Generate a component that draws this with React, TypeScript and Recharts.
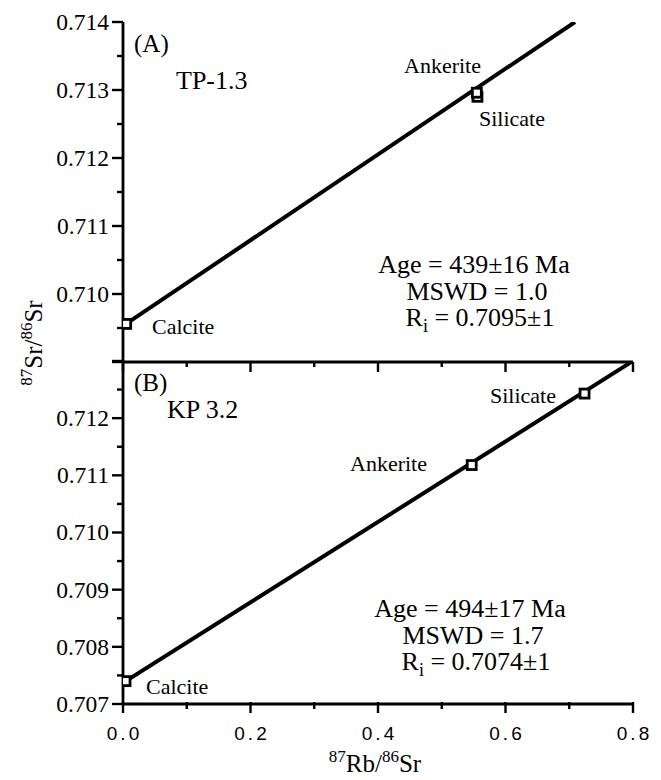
import React from 'react';
import { ScatterChart, Scatter, XAxis, YAxis } from 'recharts';

// ---------- data ----------
const xTicks = [0, 0.1, 0.2, 0.3, 0.4, 0.5, 0.6, 0.7, 0.8];
const xLabelTicks = [0, 0.2, 0.4, 0.6, 0.8];

const yTicksA = [0.709, 0.7095, 0.71, 0.7105, 0.711, 0.7115, 0.712, 0.7125, 0.713, 0.7135, 0.714];
const yLabelsA = [0.71, 0.711, 0.712, 0.713, 0.714];
const yTicksB = [0.707, 0.7075, 0.708, 0.7085, 0.709, 0.7095, 0.71, 0.7105, 0.711, 0.7115, 0.712, 0.7125, 0.713];
const yLabelsB = [0.707, 0.708, 0.709, 0.71, 0.711, 0.712];

// Panel A (TP-1.3)
const calciteA = [{ x: 0.005, y: 0.70956 }];
const ankeriteA = [{ x: 0.555, y: 0.71296 }];
const silicateA = [{ x: 0.556, y: 0.7129 }];
const fitA = [{ x: 0, y: 0.70953 }, { x: 0.709, y: 0.714 }];

// Panel B (KP 3.2)
const calciteB = [{ x: 0.004, y: 0.7074 }];
const ankeriteB = [{ x: 0.547, y: 0.71118 }];
const silicateB = [{ x: 0.724, y: 0.71243 }];
const fitB = [{ x: 0, y: 0.70737 }, { x: 0.8, y: 0.713 }];

// ---------- layout ----------
const W = 661;
const PLOT_L = 123;
const PLOT_R = 633;
const A_TOP = 22;
const MID = 362;
const B_BOT = 704;
const SERIF = '"Liberation Serif", "Times New Roman", serif';
const SANS = '"Liberation Sans", Arial, sans-serif';

const near = (a: number, b: number) => Math.abs(a - b) < 1e-9;
const inList = (v: number, list: number[]) => list.some((t) => near(t, v));
const isMajorY = (v: number) => Math.abs(v * 1000 - Math.round(v * 1000)) < 1e-6;
const isMajorX = (v: number) => Math.abs(v * 5 - Math.round(v * 5)) < 1e-6;

const makeYTick = (labels: number[]) => (props: any) => {
  const { y, payload } = props;
  const v = payload.value as number;
  const major = isMajorY(v);
  return (
    <g>
      <line x1={PLOT_L - (major ? 11 : 6)} x2={PLOT_L} y1={y} y2={y} stroke="#000" strokeWidth={2.4} />
      {inList(v, labels) && (
        <text x={PLOT_L - 14} y={y} dy="0.34em" textAnchor="end" fontFamily={SERIF} fontSize={23.5} fill="#000">
          {v.toFixed(3)}
        </text>
      )}
    </g>
  );
};

const TopXTick = (props: any) => {
  const { x, payload } = props;
  const major = isMajorX(payload.value);
  return <line x1={x} x2={x} y1={MID} y2={MID + (major ? 10 : 5)} stroke="#000" strokeWidth={2.4} />;
};

const BottomXTick = (props: any) => {
  const { x, payload } = props;
  const v = payload.value as number;
  const major = isMajorX(v);
  return (
    <g>
      <line x1={x} x2={x} y1={B_BOT - 2} y2={B_BOT + (major ? 9 : 5)} stroke="#000" strokeWidth={2.4} />
      {inList(v, xLabelTicks) && (
        <text x={x + 1.5} y={740} textAnchor="middle" fontFamily={SANS} fontSize={19} letterSpacing={3} fill="#000">
          {v.toFixed(1)}
        </text>
      )}
    </g>
  );
};

const Square = (props: any) => {
  const { cx, cy } = props;
  if (cx == null || cy == null) return <g />;
  return <rect x={cx - 4.5} y={cy - 4.5} width={9} height={9} fill="#fff" stroke="#000" strokeWidth={2.8} />;
};
const NoShape = () => <g />;

const lineStyle = { stroke: '#000', strokeWidth: 4 };

const Panel = ({ height, top, xHeight, domain, yTicks, yLabels, bottomTick, fit, points }: any) => (
  <ScatterChart
    width={W}
    height={height}
    margin={{ top, right: W - PLOT_R, bottom: 0, left: 0 }}
    style={{ position: 'absolute', left: 0, top: 0 }}
  >
    <XAxis
      xAxisId="b"
      type="number"
      dataKey="x"
      domain={[0, 0.8]}
      ticks={xTicks}
      interval={0}
      height={xHeight}
      axisLine={{ stroke: '#000', strokeWidth: 2.8 }}
      tickLine={false}
      tick={bottomTick}
      allowDataOverflow
    />
    <XAxis
      xAxisId="t"
      orientation="top"
      type="number"
      dataKey="x"
      domain={[0, 0.8]}
      height={0}
      tick={false}
      tickLine={false}
      axisLine={{ stroke: '#000', strokeWidth: 2.6 }}
      allowDataOverflow
    />
    <YAxis
      yAxisId="l"
      type="number"
      dataKey="y"
      domain={domain}
      ticks={yTicks}
      interval={0}
      width={PLOT_L}
      axisLine={{ stroke: '#000', strokeWidth: 2.8 }}
      tickLine={false}
      tick={makeYTick(yLabels)}
      allowDataOverflow
    />
    <YAxis
      yAxisId="r"
      orientation="right"
      type="number"
      dataKey="y"
      domain={domain}
      width={0}
      tick={false}
      tickLine={false}
      axisLine={{ stroke: '#000', strokeWidth: 2.6 }}
      allowDataOverflow
    />
    <Scatter xAxisId="b" yAxisId="l" data={fit} line={lineStyle} shape={NoShape} isAnimationActive={false} />
    {points.map((p: any, i: number) => (
      <Scatter key={i} xAxisId="b" yAxisId="l" data={p} shape={Square} isAnimationActive={false} />
    ))}
  </ScatterChart>
);

const txt = { fontFamily: SERIF, fill: '#000' } as const;

export default function App() {
  return (
    <div style={{ position: 'absolute', left: 0, top: 0, width: W, height: 780, background: '#fff' }}>
      <Panel
        height={MID + 10}
        top={A_TOP}
        xHeight={10}
        domain={[0.709, 0.714]}
        yTicks={yTicksA}
        yLabels={yLabelsA}
        bottomTick={TopXTick}
        fit={fitA}
        points={[calciteA, silicateA, ankeriteA]}
      />
      <Panel
        height={780}
        top={MID - 1}
        xHeight={780 - B_BOT}
        domain={[0.707, 0.713]}
        yTicks={yTicksB}
        yLabels={yLabelsB}
        bottomTick={BottomXTick}
        fit={fitB}
        points={[calciteB, ankeriteB, silicateB]}
      />
      <svg width={W} height={780} style={{ position: 'absolute', left: 0, top: 0, pointerEvents: 'none' }}>
        {/* Panel A annotations */}
        <text x={134} y={52} fontSize={25} {...txt}>(A)</text>
        <text x={176} y={89} fontSize={26} {...txt}>TP-1.3</text>
        <text x={404} y={73} fontSize={22} {...txt}>Ankerite</text>
        <text x={479} y={126} fontSize={22} {...txt}>Silicate</text>
        <text x={152} y={334} fontSize={22} {...txt}>Calcite</text>
        <text x={474} y={273} fontSize={26} textAnchor="middle" {...txt}>Age = 439±16 Ma</text>
        <text x={477} y={300} fontSize={26} textAnchor="middle" {...txt}>MSWD = 1.0</text>
        <text x={480} y={326} fontSize={26} textAnchor="middle" {...txt}>
          R<tspan fontSize={18} dy={6}>i</tspan>
          <tspan dy={-6}> = 0.7095±1</tspan>
        </text>

        {/* Panel B annotations */}
        <text x={134} y={391} fontSize={25} {...txt}>(B)</text>
        <text x={167} y={418} fontSize={26} {...txt}>KP 3.2</text>
        <text x={490} y={403} fontSize={22} {...txt}>Silicate</text>
        <text x={350} y={471} fontSize={22} {...txt}>Ankerite</text>
        <text x={146} y={694} fontSize={22} {...txt}>Calcite</text>
        <text x={470} y={617} fontSize={26} textAnchor="middle" {...txt}>Age = 494±17 Ma</text>
        <text x={473} y={644} fontSize={26} textAnchor="middle" {...txt}>MSWD = 1.7</text>
        <text x={476} y={670} fontSize={26} textAnchor="middle" {...txt}>
          R<tspan fontSize={18} dy={6}>i</tspan>
          <tspan dy={-6}> = 0.7074±1</tspan>
        </text>

        {/* Axis titles */}
        <text x={375} y={772} fontSize={25} textAnchor="middle" {...txt}>
          <tspan fontSize={17} dy={-10}>87</tspan>
          <tspan dy={10}>Rb/</tspan>
          <tspan fontSize={17} dy={-10}>86</tspan>
          <tspan dy={10}>Sr</tspan>
        </text>
        <text x={42} y={343} fontSize={25} textAnchor="middle" transform="rotate(-90 42 343)" {...txt}>
          <tspan fontSize={17} dy={-10}>87</tspan>
          <tspan dy={10}>Sr/</tspan>
          <tspan fontSize={17} dy={-10}>86</tspan>
          <tspan dy={10}>Sr</tspan>
        </text>
      </svg>
    </div>
  );
}
